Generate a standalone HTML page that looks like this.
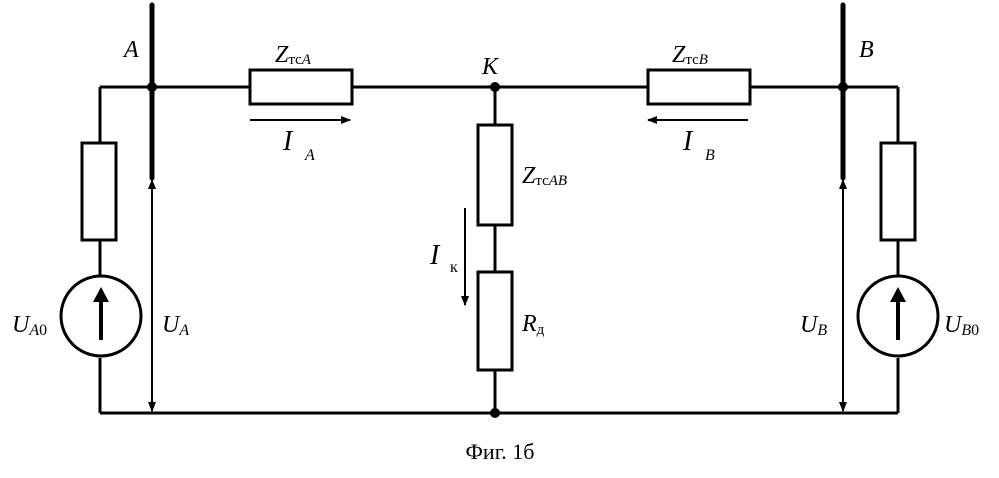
<!DOCTYPE html><html><head><style>body{margin:0;background:#fff}</style></head><body>
<svg width="999" height="473" viewBox="0 0 999 473" xmlns="http://www.w3.org/2000/svg" font-family="Liberation Serif, serif" font-style="italic">
<defs><marker id="ah" markerWidth="10" markerHeight="8" refX="9" refY="4" orient="auto" markerUnits="userSpaceOnUse"><path d="M0,0 L10,4 L0,8 Z" fill="#000"/></marker></defs>
<g stroke="#000" stroke-width="3" fill="none">
<path d="M100,87 H898 M100,413 H898"/>
<path d="M100,87 V143 M100,240 V275 M100,358 V413"/>
<path d="M898,87 V143 M898,240 V275 M898,358 V413"/>
<path d="M495,87 V125 M495,225 V272 M495,370 V413"/>
<rect x="82" y="143" width="34" height="97" fill="#fff"/>
<rect x="881" y="143" width="34" height="97" fill="#fff"/>
<rect x="250" y="70" width="102" height="34" fill="#fff"/>
<rect x="648" y="70" width="102" height="34" fill="#fff"/>
<rect x="478" y="125" width="34" height="100" fill="#fff"/>
<rect x="478" y="272" width="34" height="98" fill="#fff"/>
<circle cx="101" cy="316" r="40" fill="#fff"/>
<circle cx="898" cy="316" r="40" fill="#fff"/>
</g>
<path d="M152,5 V178 M843,5 V178" stroke="#000" stroke-width="5" stroke-linecap="round"/>
<g fill="#000"><circle cx="152" cy="87" r="5"/><circle cx="843" cy="87" r="5"/><circle cx="495" cy="87" r="5"/><circle cx="495" cy="413" r="5"/></g>
<g stroke="#000" stroke-width="2">
<line x1="152" y1="410" x2="152" y2="180" marker-end="url(#ah)"/>
<line x1="152" y1="185" x2="152" y2="411" marker-end="url(#ah)"/>
<line x1="843" y1="410" x2="843" y2="180" marker-end="url(#ah)"/>
<line x1="843" y1="185" x2="843" y2="411" marker-end="url(#ah)"/>
<line x1="250" y1="120" x2="350" y2="120" marker-end="url(#ah)"/>
<line x1="748" y1="120" x2="648" y2="120" marker-end="url(#ah)"/>
<line x1="465" y1="208" x2="465" y2="305" marker-end="url(#ah)"/>
</g>
<g stroke="#000" stroke-width="4"><line x1="101" y1="340" x2="101" y2="300"/><line x1="898" y1="340" x2="898" y2="300"/></g>
<g fill="#000"><path d="M93,302 L101,287 L109,302 Z"/><path d="M890,302 L898,287 L906,302 Z"/></g>
<g font-size="24" fill="#000">
<text x="124" y="57">A</text><text x="859" y="57">B</text><text x="482" y="74">K</text>
<text x="275" y="62">Z<tspan font-size="15" font-style="normal" dy="2">тс</tspan><tspan font-size="15">A</tspan></text>
<text x="672" y="62">Z<tspan font-size="15" font-style="normal" dy="2">тс</tspan><tspan font-size="15">B</tspan></text>
<text x="522" y="183">Z<tspan font-size="15" font-style="normal" dy="2">тс</tspan><tspan font-size="15">AB</tspan></text>
<text x="522" y="331">R<tspan font-size="15" font-style="normal" dy="3">д</tspan></text>
<text x="283" y="150" font-size="28">I</text><text x="305" y="160" font-size="16">A</text>
<text x="683" y="150" font-size="28">I</text><text x="705" y="160" font-size="16">B</text>
<text x="430" y="264" font-size="28">I</text><text x="450" y="272" font-size="16" font-style="normal">к</text>
<text x="162" y="332">U<tspan font-size="16" dy="3">A</tspan></text>
<text x="12" y="332">U<tspan font-size="16" dy="3">A</tspan><tspan font-size="16" font-style="normal">0</tspan></text>
<text x="800" y="332">U<tspan font-size="16" dy="3">B</tspan></text>
<text x="944" y="332">U<tspan font-size="16" dy="3">B</tspan><tspan font-size="16" font-style="normal">0</tspan></text>
<text x="500" y="459" font-style="normal" font-size="22" text-anchor="middle">Фиг. 1б</text>
</g>
</svg>
</body></html>
